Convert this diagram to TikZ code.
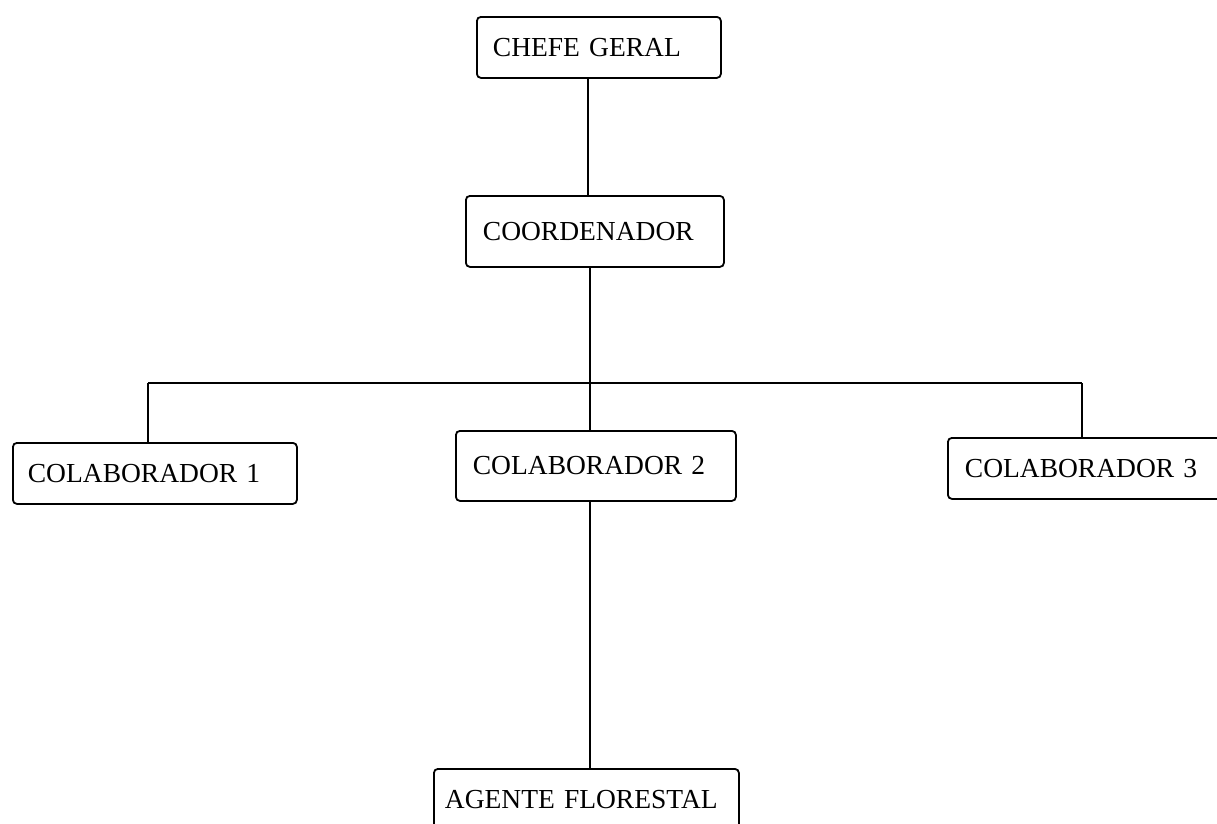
\documentclass[tikz,border=0pt]{standalone}
\usepackage{fontspec}
\setmainfont{Liberation Serif}
\begin{document}
\begin{tikzpicture}[x=1pt,y=-1pt,
  orgbox/.style={draw=black,line width=1.8pt,rounded corners=4pt,anchor=north west,
    align=left,inner ysep=0pt,font=\fontsize{27.5}{30}\selectfont},
  link/.style={draw=black,line width=2pt}]
\useasboundingbox (0,0) rectangle (1217,823);
\fill[white] (0,0) rectangle (1217,823);
\node[orgbox,minimum width=244pt,minimum height=61pt,text width=212pt,inner xsep=16pt] (chefe) at (476,16) {CHEFE GERAL};
\node[orgbox,minimum width=258pt,minimum height=71pt,text width=224pt,inner xsep=17pt] (coord) at (465,195) {COORDENADOR};
\node[orgbox,minimum width=284pt,minimum height=61pt,text width=254pt,inner xsep=15pt] (col1) at (12,442) {COLABORADOR 1};
\node[orgbox,minimum width=280pt,minimum height=70pt,text width=246pt,inner xsep=17pt] (col2) at (455,430) {COLABORADOR 2};
\node[orgbox,minimum width=300pt,minimum height=61pt,text width=266pt,inner xsep=17pt] (col3) at (947,437) {COLABORADOR 3};
\node[orgbox,minimum width=305pt,minimum height=62pt,text width=283pt,inner xsep=11pt] (agente) at (433,768) {AGENTE FLORESTAL};
\coordinate (junc) at (590,383);
\coordinate (l1) at (148,383);
\coordinate (l3) at (1082,383);
\draw[link] (chefe.south -| 588,0) -- (coord.north -| 588,0);
\draw[link] (coord.south -| junc) -- (junc);
\draw[link] (l1) -- (l3);
\draw[link] (l1) -- (col1.north -| l1);
\draw[link] (l3) -- (col3.north -| l3);
\draw[link] (junc) -- (col2.north -| junc);
\draw[link] (col2.south -| junc) -- (agente.north -| junc);
\end{tikzpicture}
\end{document}
